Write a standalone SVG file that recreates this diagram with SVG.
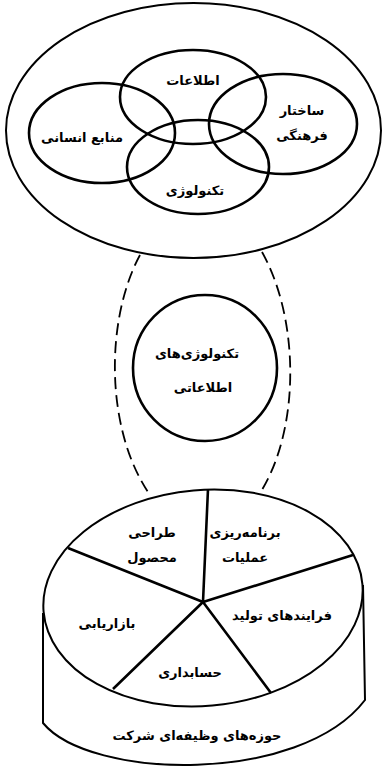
<svg xmlns="http://www.w3.org/2000/svg" width="385" height="769" viewBox="0 0 385 769">
<style>
.ln{fill:none;stroke:#000;stroke-width:2}
.th{fill:none;stroke:#000;stroke-width:2.6}
.ds{fill:none;stroke:#000;stroke-width:1.8;stroke-dasharray:12 6}
.t{font-family:"DejaVu Sans",sans-serif;font-weight:bold;font-size:13px;text-anchor:middle;fill:#000}
</style>
<rect width="385" height="769" fill="#fff"/>
<g id="connectors">
<path class="ds" d="M140,255 C105,320 105,430 150,495"/>
<path class="ds" d="M262,252 C300,320 300,430 260,493"/>
</g>
<g id="outer">
<ellipse class="ln" cx="193.5" cy="130.5" rx="187.5" ry="127.5"/>
</g>
<g id="info">
<ellipse class="th" cx="193" cy="97" rx="73" ry="47"/>
<text class="t" x="193" y="85">اطلاعات</text>
</g>
<g id="human">
<ellipse class="th" cx="102" cy="133" rx="73" ry="50"/>
<text class="t" x="82" y="142">منابع انسانی</text>
</g>
<g id="culture">
<ellipse class="th" cx="283" cy="124" rx="74" ry="50"/>
<text class="t" x="302" y="115">ساختار</text>
<text class="t" x="302" y="140">فرهنگی</text>
</g>
<g id="tech">
<ellipse class="th" cx="198" cy="167" rx="71" ry="47"/>
<text class="t" x="195" y="195">تکنولوژی</text>
</g>
<g id="it">
<ellipse class="th" cx="205" cy="368" rx="72" ry="73"/>
<text class="t" x="197" y="358">تکنولوژی‌های</text>
<text class="t" x="203" y="392">اطلاعاتی</text>
</g>
<g id="functions">
<path class="ln" d="M43,613 L43,723 C90,780 300,785 365,700 L363,585"/>
<ellipse class="ln" cx="203" cy="598" rx="160" ry="108" transform="rotate(-5 203 598)"/>
<path class="th" d="M203,602 L208,489 M203,602 L353,555 M203,602 L271,693 M203,602 L113,689 M203,602 L68,548"/>
<text class="t" x="152" y="537">طراحی</text>
<text class="t" x="152" y="562">محصول</text>
<text class="t" x="245" y="537">برنامه‌ریزی</text>
<text class="t" x="245" y="562">عملیات</text>
<text class="t" x="282" y="620">فرایندهای تولید</text>
<text class="t" x="107" y="628">بازاریابی</text>
<text class="t" x="190" y="677">حسابداری</text>
<text class="t" x="197" y="740">حوزه‌های وظیفه‌ای شرکت</text>
</g>
</svg>
